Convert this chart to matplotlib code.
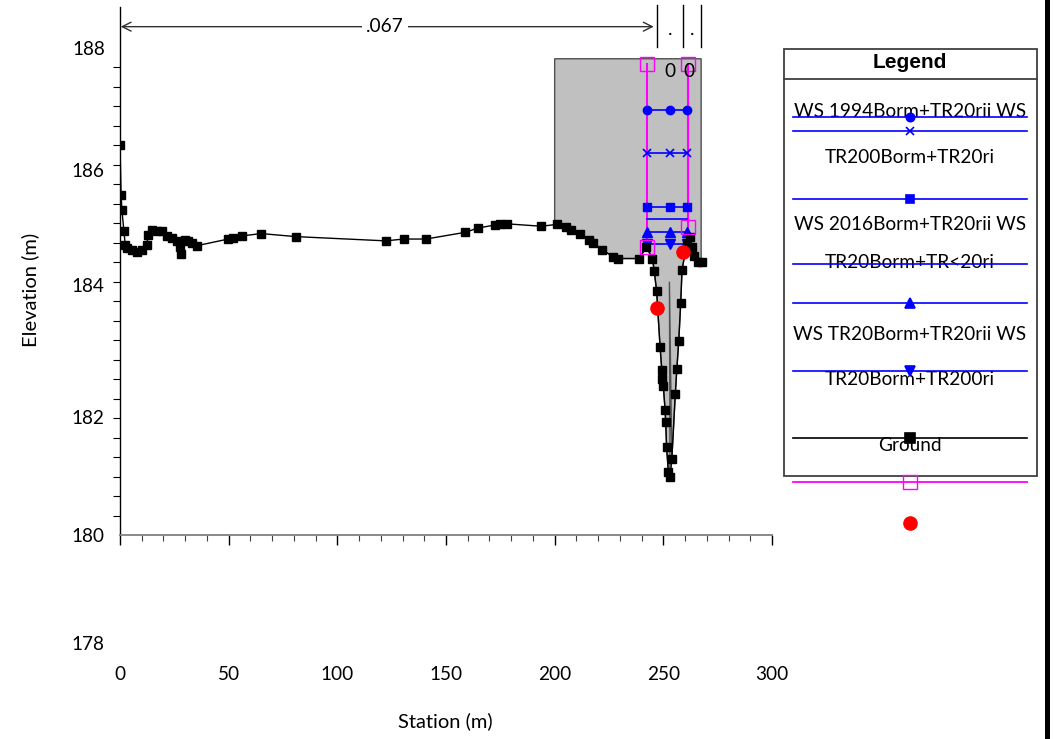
import matplotlib
matplotlib.use('Agg')
import matplotlib.pyplot as plt
from matplotlib.patches import Rectangle, Polygon
from matplotlib.ticker import FixedLocator, MultipleLocator
import matplotlib.transforms as mtransforms
import numpy as np

plt.rcParams['font.family'] = ['Lato', 'DejaVu Sans']

# ---------------- data ----------------
ground_x = [0.0, 0.5, 0.9, 1.8, 2.4, 3.4, 5.4, 7.7, 10.0, 12.3, 13.0, 14.6, 16.9, 19.2,
            21.5, 23.8, 26.1, 27.6, 28.1, 29.9, 31.4, 33.0, 35.3, 49.8, 52.1, 56.0, 64.9,
            80.8, 122.3, 130.5, 140.7, 158.9, 164.6, 172.5, 174.8, 177.9, 193.9, 200.9,
            205.2, 207.5, 211.7, 215.9, 217.8, 221.9, 227.0, 229.3, 238.9, 242.2, 245.0,
            245.8, 246.9, 248.5, 249.3, 249.5, 250.0, 250.8, 251.1, 251.5, 252.3, 253.1,
            253.9, 255.5, 256.2, 257.1, 258.0, 258.6, 260.8, 262.3, 263.0, 264.1, 266.1, 267.7]
ground_y = [186.40, 185.58, 185.33, 184.99, 184.77, 184.71, 184.68, 184.65, 184.68, 184.76,
            184.93, 185.01, 185.00, 185.00, 184.91, 184.87, 184.82, 184.73, 184.61, 184.84,
            184.82, 184.79, 184.75, 184.86, 184.87, 184.91, 184.95, 184.90, 184.83, 184.86,
            184.86, 184.97, 185.04, 185.09, 185.10, 185.11, 185.07, 185.10, 185.06, 185.01,
            184.94, 184.84, 184.79, 184.68, 184.57, 184.54, 184.54, 184.73, 184.54, 184.34,
            184.01, 183.09, 182.71, 182.56, 182.44, 182.06, 181.85, 181.44, 181.04, 180.95,
            181.24, 182.31, 182.72, 183.19, 183.81, 184.35, 184.79, 184.90, 184.73, 184.58,
            184.49, 184.48]

# blocked / gray area
block_left, block_right, block_top = 200.0, 267.4, 187.82
spike_x, spike_y = 252.8, 184.16

# water surfaces
ws_x = [242.4, 253.0, 261.1]
ws_1994_a = 186.98   # circles
ws_1994_b = 186.28   # x
ws_2016_a = 185.39   # squares
ws_2016_b = 185.19   # no marker
ws_tr20_a = 184.98   # triangle up
ws_tr20_b = 184.78   # triangle down

# levees (magenta)
levee_x = [242.4, 261.2]
levee_bottom = [184.73, 185.06]
levee_top = 187.74

# bank stations (red)
bank_x = [247.2, 259.2]
bank_y = [183.72, 184.65]

# Manning's n
n_breaks = [247.2, 259.2, 267.2]
n_label = '.067'

x_ticks = [0, 50, 100, 150, 200, 250, 300]
y_ticks = [178, 180, 182, 184, 186, 188]

FS = 13.7

# ---------------- figure ----------------
W, H = 1053, 739
fig = plt.figure(figsize=(W / 100, H / 100), dpi=100)
ax = fig.add_axes([120 / W, 1 - 700 / H, (772 - 120) / W, (700 - 7) / H])
ax.set_xlim(0, 300)
ax.set_ylim(177.291, 188.670)

# gray block polygon
gx = np.array(ground_x)
gy = np.array(ground_y)
sel = [i for i in range(len(gx)) if block_left < gx[i] <= block_right + 0.5]
bottom = []
for i in sel:
    bottom.append((min(gx[i], block_right), gy[i]))
    if i < len(gx) - 1 and gx[i] < spike_x + 0.5 and gx[i + 1] > spike_x + 0.5 and gy[i] < 181.5:
        bottom.append((spike_x, spike_y))
poly = [(block_left, block_top), (block_right, block_top)] + bottom[::-1] + [(block_left, gy[sel[0]])]
ax.add_patch(Polygon(poly, closed=True, facecolor='#c0c0c0', edgecolor='#505050', lw=1.0, zorder=1))

# levees
for lx, lb in zip(levee_x, levee_bottom):
    ax.plot([lx, lx], [lb, levee_top], color='#ff00ff', lw=1.5, zorder=2)
    ax.plot([lx, lx], [lb, levee_top], ls='none', marker='s', ms=9.5, mfc='none',
            mec='#ff00ff', mew=1.0, zorder=5)

# water surfaces
blue = '#0000ff'
ax.plot(ws_x, [ws_1994_a] * 3, color=blue, lw=1.2, marker='o', ms=6, zorder=3)
ax.plot(ws_x, [ws_1994_b] * 3, color=blue, lw=1.2, marker='x', ms=6, mew=1.2, zorder=3)
ax.plot(ws_x, [ws_2016_a] * 3, color=blue, lw=1.2, marker='s', ms=5.5, zorder=3)
ax.plot([ws_x[0], ws_x[-1]], [ws_2016_b] * 2, color=blue, lw=1.2, zorder=3)
ax.plot(ws_x, [ws_tr20_a] * 3, color=blue, lw=1.2, marker='^', ms=6.5, zorder=3)
ax.plot(ws_x, [ws_tr20_b] * 3, color=blue, lw=1.2, marker='v', ms=6.5, zorder=3)

# ground
ax.plot(ground_x, ground_y, color='black', lw=1.0, marker='s', ms=5.8, zorder=4)

# bank stations
ax.plot(bank_x, bank_y, ls='none', marker='o', ms=9.5, color='#ff0000', zorder=6)

# Manning's n annotation
y_arrow = 188.347
ax.annotate('', xy=(0.3, y_arrow), xytext=(245.6, y_arrow),
            arrowprops=dict(arrowstyle='<->', color='#303030', lw=1.0,
                            mutation_scale=16, shrinkA=0, shrinkB=0),
            annotation_clip=False)
ax.text(122, y_arrow, n_label, ha='center', va='center', fontsize=FS,
        bbox=dict(facecolor='white', edgecolor='none', pad=3), zorder=7)
for b in n_breaks:
    ax.plot([b, b], [188.01, 188.70], color='black', lw=1.0, clip_on=False)
for a, b in zip(n_breaks[:-1], n_breaks[1:]):
    ax.text((a + b) / 2, 188.30, '.', ha='center', va='center', fontsize=FS)
ax.text(253.1, 187.61, '0', ha='center', va='center', fontsize=FS, zorder=7)
ax.text(261.9, 187.61, '0', ha='center', va='center', fontsize=FS, zorder=7)

# axes styling
for s in ['top', 'right']:
    ax.spines[s].set_visible(False)
ax.spines['bottom'].set_position(('data', 180))
ax.spines['bottom'].set_color('#808080')
ax.spines['bottom'].set_linewidth(1.3)
ax.spines['left'].set_bounds(180, 188.67)
ax.spines['left'].set_linewidth(1.0)

ax.xaxis.set_major_locator(FixedLocator(x_ticks))
ax.xaxis.set_minor_locator(MultipleLocator(10))
ax.tick_params(axis='x', which='major', direction='out', length=7.5, width=1.0,
               pad=87, labelsize=FS)
ax.tick_params(axis='x', which='minor', direction='out', length=4, width=0.8, color='#404040')

ax.yaxis.set_major_locator(FixedLocator(y_ticks))
ax.yaxis.set_minor_locator(FixedLocator([180 + 0.32 * k for k in range(26)]))
ax.tick_params(axis='y', which='major', length=0, pad=11, labelsize=FS)
ax.tick_params(axis='y', which='minor', direction='out', length=4.8, width=0.8)

# small vertical nudges of y tick labels (pixels, positive = up), as rendered in the source
label_nudge = {178: 14, 182: -4, 184: 6}
for tick, val in zip(ax.yaxis.get_major_ticks(), y_ticks):
    if val in label_nudge:
        lab = tick.label1
        lab.set_transform(lab.get_transform() +
                          mtransforms.ScaledTranslation(0, label_nudge[val] / 100, fig.dpi_scale_trans))

fig.text(30 / W, 1 - 290 / H, 'Elevation (m)', rotation=90, ha='center', va='center', fontsize=14.5)
fig.text(445 / W, 1 - 721 / H, 'Station (m)', ha='center', va='center', fontsize=14.5)

# ---------------- legend (drawn in pixel coordinates) ----------------
lax = fig.add_axes([0, 0, 1, 1])
lax.set_xlim(0, W)
lax.set_ylim(H, 0)
lax.axis('off')
lax.patch.set_visible(False)
lax.add_patch(Rectangle((783.5, 49), 253, 427, facecolor='white', edgecolor='#404040', lw=1.3, zorder=1))
lax.plot([783.5, 1036.5], [79, 79], color='#404040', lw=1.3, zorder=2)
lax.text(910, 63, 'Legend', ha='center', va='center', fontsize=15, fontweight='bold',
         family=['Liberation Sans', 'DejaVu Sans'], zorder=3)

lx0, lx1, mx = 793, 1027, 910
entries = [
    (116.7, blue, 'o', 6, blue),
    (131.0, blue, 'x', 6, blue),
    (198.7, blue, 's', 6, blue),
    (264.0, blue, None, 0, blue),
    (303.3, blue, '^', 6.5, blue),
    (371.0, blue, 'v', 6.5, blue),
    (438.0, 'black', 's', 6.5, 'black'),
]
texts = [
    (111.7, 'WS 1994Borm+TR20rii WS'),
    (157.3, 'TR200Borm+TR20ri'),
    (224.0, 'WS 2016Borm+TR20rii WS'),
    (262.7, 'TR20Borm+TR<20ri'),
    (334.0, 'WS TR20Borm+TR20rii WS'),
    (379.3, 'TR20Borm+TR200ri'),
    (445.7, 'Ground'),
]
for ty, t in texts:
    lax.text(mx, ty, t, ha='center', va='center', fontsize=FS, zorder=3)
for yy, col, mk, ms, mc in entries:
    lax.plot([lx0, lx1], [yy, yy], color=col, lw=1.2, zorder=4)
    if mk:
        lax.plot([mx], [yy], marker=mk, ms=ms, color=mc, mew=1.2, zorder=5)
lax.plot([lx0, lx1], [482, 482], color='#ff00ff', lw=1.3, zorder=4)
lax.plot([mx], [482], marker='s', ms=9.5, mfc='none', mec='#ff00ff', mew=1.0, zorder=5)
lax.plot([mx], [523.3], marker='o', ms=9.5, color='#ff0000', zorder=5)

# right window border
lax.add_patch(Rectangle((1045, 0), 5, H, facecolor='black', edgecolor='none', zorder=6))

fig.savefig('out.png', dpi=100)
